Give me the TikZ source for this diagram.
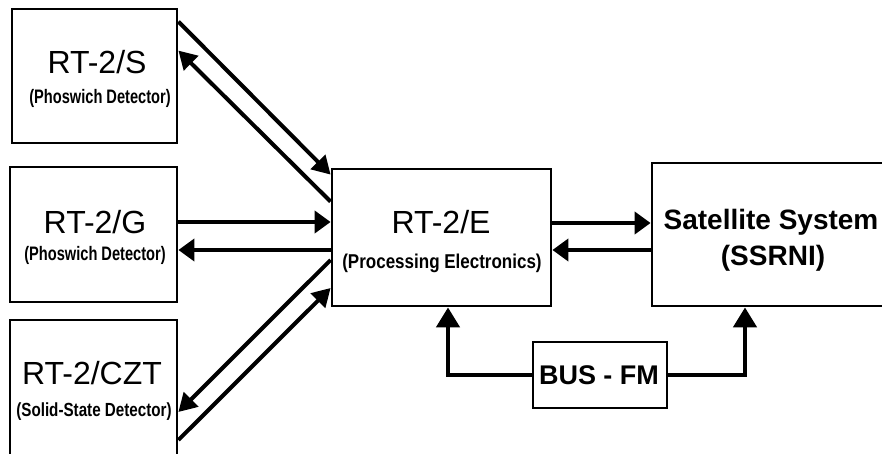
\documentclass[tikz,border=0pt]{standalone}
\usepackage{fontspec}
\usepackage{graphicx}
\setmainfont{Liberation Sans}
\usetikzlibrary{arrows.meta,calc}
\newcommand\squeezetext[3]{\scalebox{#1}[1]{\bfseries\fontsize{#2}{#2}\selectfont #3}}
\begin{document}
\begin{tikzpicture}[x=1pt,y=-1pt,
  box/.style={draw,line width=2.8pt,inner sep=0pt,rectangle},
  arr/.style={line width=4.6pt,-{Triangle[length=16pt,width=22pt]}},
  diag/.style={line width=4pt,-{Triangle[length=18pt,width=20pt]}},
  busarr/.style={line width=4.6pt,-{Triangle[length=20pt,width=23pt]}},
  title/.style={inner sep=0pt,font=\fontsize{32}{34}\selectfont},
  sub/.style={inner sep=0pt},
  bigbold/.style={inner sep=0pt,font=\bfseries\fontsize{#1}{#1}\selectfont}]
\useasboundingbox (0,0) rectangle (882,454);
\clip (0,0) rectangle (882,454);
\fill[white] (0,0) rectangle (882,454);
% boxes
\node[box,minimum width=165pt,minimum height=134pt] (S) at (94.5,76) {};
\node[box,minimum width=167pt,minimum height=135pt] (G) at (93.5,234.5) {};
\node[box,minimum width=167pt,minimum height=150pt] (C) at (93.5,395) {};
\node[box,minimum width=219pt,minimum height=137pt] (E) at (441.5,237.5) {};
\node[box,minimum width=260pt,minimum height=143pt] (T) at (782,234.5) {};
\node[box,minimum width=134pt,minimum height=66pt] (B) at (600,375) {};
% texts
\node[title] (St) at (97,62) {RT-2/S};
\node[sub] (Ss) at (100,98) {\squeezetext{0.75}{19.5}{(Phoswich Detector)}};
\node[title] (Gt) at (95,222) {RT-2/G};
\node[sub] (Gs) at (95,255) {\squeezetext{0.75}{19.5}{(Phoswich Detector)}};
\node[title] (Ct) at (92,373) {RT-2/CZT};
\node[sub] (Cs) at (94,412) {\squeezetext{0.8}{19}{(Solid-State Detector)}};
\node[title] (Et) at (441,222) {RT-2/E};
\node[sub] (Es) at (442,263) {\squeezetext{0.85}{20}{(Processing Electronics)}};
\node[bigbold=28] (Tt) at (771,222) {Satellite System};
\node[bigbold=28] (Ts) at (773,258) {(SSRNI)};
\node[bigbold=27] (Bt) at (599,375) {BUS - FM};
% connectors S
\draw[diag] ([yshift=-14pt]S.north east) -- ([yshift=-7pt]E.north west);
\draw[diag] ([yshift=-34pt]E.north west) -- ([yshift=-43pt]S.north east);
% connectors G
\draw[arr] ([yshift=12.5pt]G.east) -- ([yshift=12.5pt]G.east -| E.west);
\draw[arr] ([yshift=-15.5pt]G.east -| E.west) -- ([yshift=-15.5pt]G.east);
% connectors CZT
\draw[diag] ([yshift=-22.5pt]E.west) -- ([yshift=-17pt]C.east);
\draw[diag] ([yshift=-45pt]C.east) -- ([yshift=-50.5pt]E.west);
% connectors E <-> satellite
\draw[arr] ([yshift=14.5pt]E.east) -- ([yshift=14.5pt]E.east -| T.west);
\draw[arr] ([yshift=-12.5pt]E.east -| T.west) -- ([yshift=-12.5pt]E.east);
% bus
\draw[busarr] (B.west) -| ([xshift=6.5pt]E.south);
\draw[busarr] (B.east) -| ([xshift=-37pt]T.south);
\end{tikzpicture}
\end{document}
